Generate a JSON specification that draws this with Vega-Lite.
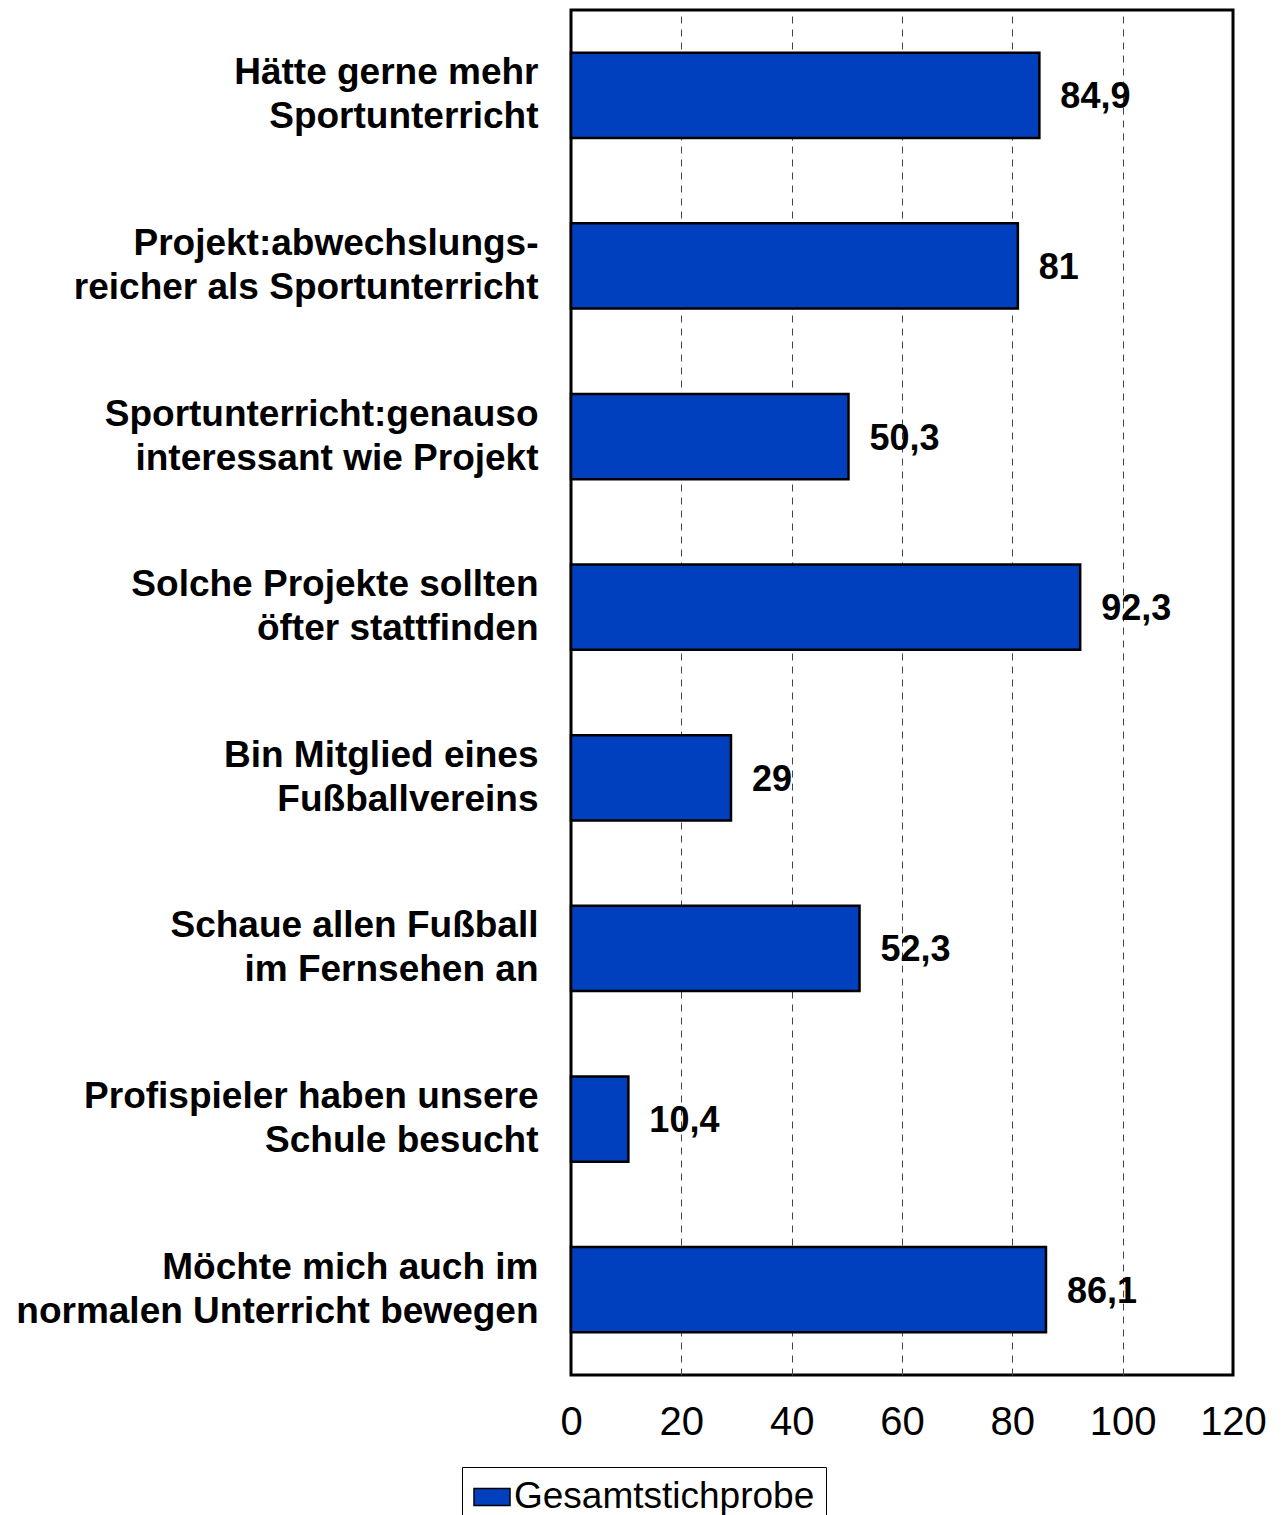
{
  "$schema": "https://vega.github.io/schema/vega-lite/v6.json",
  "autosize": "none",
  "width": 662,
  "height": 1365,
  "padding": {"left": 571, "top": 10, "right": 53, "bottom": 140},
  "background": "white",
  "config": {
    "font": "Liberation Sans",
    "view": {"stroke": "black", "strokeWidth": 3}
  },
  "data": {
    "values": [
      {"aussage": "Hätte gerne mehr|Sportunterricht", "prozent": 84.9, "gruppe": "Gesamtstichprobe"},
      {"aussage": "Projekt:abwechslungs-|reicher als Sportunterricht", "prozent": 81, "gruppe": "Gesamtstichprobe"},
      {"aussage": "Sportunterricht:genauso|interessant wie Projekt", "prozent": 50.3, "gruppe": "Gesamtstichprobe"},
      {"aussage": "Solche Projekte sollten|öfter stattfinden", "prozent": 92.3, "gruppe": "Gesamtstichprobe"},
      {"aussage": "Bin Mitglied eines|Fußballvereins", "prozent": 29, "gruppe": "Gesamtstichprobe"},
      {"aussage": "Schaue allen Fußball|im Fernsehen an", "prozent": 52.3, "gruppe": "Gesamtstichprobe"},
      {"aussage": "Profispieler haben unsere|Schule besucht", "prozent": 10.4, "gruppe": "Gesamtstichprobe"},
      {"aussage": "Möchte mich auch im|normalen Unterricht bewegen", "prozent": 86.1, "gruppe": "Gesamtstichprobe"}
    ]
  },
  "encoding": {
    "y": {
      "field": "aussage", "type": "nominal", "sort": null,
      "scale": {"paddingInner": 0.5, "paddingOuter": 0.25},
      "axis": {
        "title": null, "domain": false, "ticks": false,
        "labelExpr": "split(datum.label, '|')",
        "labelFont": "Liberation Sans", "labelFontSize": 37, "labelFontWeight": "bold",
        "labelColor": "black", "labelLineHeight": 44, "labelOffset": -22, "labelPadding": 33, "labelLimit": 600
      }
    },
    "x": {
      "field": "prozent", "type": "quantitative",
      "scale": {"domain": [0, 120], "nice": false},
      "axis": {
        "title": null, "values": [0, 20, 40, 60, 80, 100, 120],
        "domain": false, "ticks": false,
        "labelFontSize": 40, "labelColor": "black", "labelPadding": 27,
        "labelFlush": false,
        "grid": true, "gridDash": [7, 6], "gridWidth": 1,
        "gridColor": {"condition": {"test": "datum.value == 0 || datum.value == 120", "value": "transparent"}, "value": "#444444"}
      }
    }
  },
  "layer": [
    {
      "mark": {"type": "bar", "stroke": "black", "strokeWidth": 2.5},
      "encoding": {
        "color": {
          "field": "gruppe", "type": "nominal",
          "scale": {"range": ["#003FBD"]},
          "legend": {
            "title": null, "orient": "none", "legendX": -109, "legendY": 1457,
            "strokeColor": "black", "fillColor": "white",
            "padding": 11, "symbolType": "M-1,-0.47H1V0.47H-1Z", "symbolSize": 1296,
            "symbolStrokeColor": "black", "symbolStrokeWidth": 1.5,
            "labelExpr": "datum.label + '\u00a0'",
            "labelFontSize": 37, "labelColor": "black", "labelOffset": 3, "labelLimit": 500
          }
        }
      }
    },
    {
      "mark": {"type": "text", "align": "left", "baseline": "middle", "dx": 21, "dy": 2, "fontSize": 36, "fontWeight": "bold", "color": "black",
        "text": {"expr": "replace(format(datum.prozent, '.1~f'), '.', ',')"}},
      "encoding": {}
    }
  ]
}
